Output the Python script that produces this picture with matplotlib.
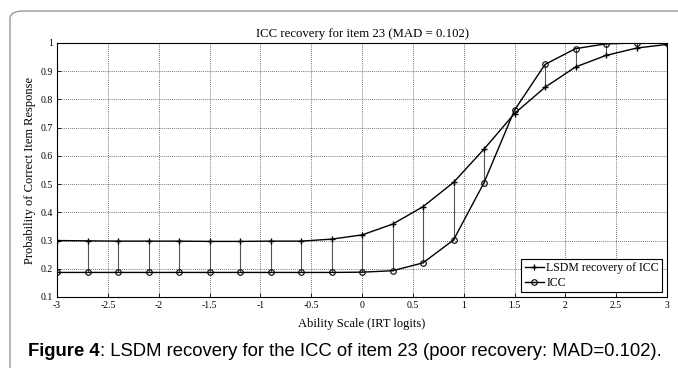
import numpy as np
import matplotlib
matplotlib.use('Agg')
import matplotlib.pyplot as plt
from matplotlib.patches import FancyBboxPatch

# values
ability = [-3.0, -2.7, -2.4, -2.1, -1.8, -1.5, -1.2, -0.9, -0.6, -0.3,
           0.0, 0.3, 0.6, 0.9, 1.2, 1.5, 1.8, 2.1, 2.4, 2.7, 3.0]
lsdm = [0.300, 0.299, 0.298, 0.298, 0.298, 0.297, 0.297, 0.298, 0.298, 0.305,
        0.320, 0.358, 0.420, 0.506, 0.624, 0.750, 0.843, 0.915, 0.956, 0.982, 0.995]
icc = [0.187, 0.187, 0.187, 0.187, 0.187, 0.187, 0.187, 0.187, 0.187, 0.187,
       0.188, 0.193, 0.221, 0.302, 0.505, 0.762, 0.924, 0.980, 0.997, 1.000, 1.000]
xticks = [-3, -2.5, -2, -1.5, -1, -0.5, 0, 0.5, 1, 1.5, 2, 2.5, 3]
yticks = [0.1, 0.2, 0.3, 0.4, 0.5, 0.6, 0.7, 0.8, 0.9, 1.0]
xtick_labels = ['-3', '-2.5', '-2', '-1.5', '-1', '-0.5', '0', '0.5', '1', '1.5', '2', '2.5', '3']
ytick_labels = ['0.1', '0.2', '0.3', '0.4', '0.5', '0.6', '0.7', '0.8', '0.9', '1']

serif = ['Liberation Serif', 'DejaVu Serif']

fig = plt.figure(figsize=(6.78, 3.68), dpi=100)

# rounded frame around figure + caption
frame = FancyBboxPatch((10 / 678, -0.2), 1.2, 1.2 - 11 / 368,
                       boxstyle='round,pad=0,rounding_size=0.02',
                       transform=fig.transFigure, fill=False,
                       edgecolor='#9a9a9a', linewidth=1.0)
fig.patches.append(frame)

ax = fig.add_axes([57 / 678, 1 - 297 / 368, 610 / 678, 254 / 368])

ax.vlines(ability, icc, lsdm, color='#555555', linewidth=0.8, zorder=2)
ax.plot(ability, lsdm, color='black', linewidth=1.0, marker='+',
        markersize=4, markeredgewidth=1.0, label='LSDM recovery of ICC', zorder=3)
ax.plot(ability, icc, color='black', linewidth=1.0, marker='o',
        markersize=4, markerfacecolor='none', markeredgewidth=0.8,
        label='ICC', zorder=3)

ax.set_xlim(-3, 3)
ax.set_ylim(0.1, 1.0)
ax.set_xticks(xticks)
ax.set_xticklabels(xtick_labels, family=serif, fontsize=7)
ax.set_yticks(yticks)
ax.set_yticklabels(ytick_labels, family=serif, fontsize=7)
ax.tick_params(direction='in', length=3, width=0.6, pad=3)
ax.grid(True, linestyle=(0, (1, 1.5)), color='#444444', linewidth=0.6)
for s in ax.spines.values():
    s.set_linewidth(0.8)

ax.set_title('ICC recovery for item 23 (MAD = 0.102)', family=serif,
             fontsize=9.2, pad=4)
ax.set_xlabel('Ability Scale (IRT logits)', family=serif, fontsize=9, labelpad=6)
ax.set_ylabel('Probability of Correct Item Response', family=serif, fontsize=9,
              labelpad=3)

leg = ax.legend(loc='lower right', prop={'family': serif, 'size': 8.5},
                fancybox=False, edgecolor='black', framealpha=1,
                handlelength=1.6, handletextpad=0.2, borderpad=0.3,
                labelspacing=0.2, borderaxespad=0.4)
leg.get_frame().set_linewidth(0.8)

# caption: bold "Figure 4" followed by regular text
cap_y = 1 - 351 / 368
t1 = fig.text(28 / 678, cap_y, 'Figure 4', fontsize=13.3,
              family='Liberation Sans', fontweight='bold', va='center')
fig.canvas.draw()
bb = t1.get_window_extent()
fig.text(bb.x1 / fig.bbox.width, cap_y,
         ': LSDM recovery for the ICC of item 23 (poor recovery: MAD=0.102).',
         fontsize=13.3, family='Liberation Sans', va='center')

fig.savefig('out.png', dpi=100)
